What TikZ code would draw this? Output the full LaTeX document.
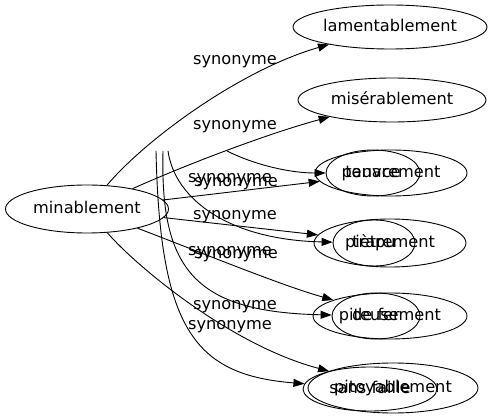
\documentclass[tikz,border=0pt]{standalone}
\usepackage{fontspec}
\setmainfont{DejaVu Sans}
\usetikzlibrary{arrows.meta, shapes.geometric}

\begin{document}
\begin{tikzpicture}[
                        ->,
                        >={Triangle[length=11pt, width=8pt]},
                        x=1pt, y=-1pt,
                        line width=0.9pt,
                        font=\fontsize{16.2}{19}\selectfont
                    ]
                    \tikzset{
                        word/.style = {draw, ellipse, inner sep=0pt, text height=12.3pt, text depth=3.8pt},
                        rel/.style = {anchor=base, inner sep=0pt}
                    }
                    \useasboundingbox (0,0) rectangle (493,419);

                    % Source word
                    \node[word, minimum width=163pt, minimum height=48pt] (mina) at (87,209) {minablement};

                    % Synonyms (right column)
                    \node[word, minimum width=194pt, minimum height=44pt] (lam) at (390,27) {lamentablement};
                    \node[word, minimum width=188pt, minimum height=44pt] (mis) at (392,100) {misérablement};
                    \node[word, minimum width=152pt, minimum height=46pt] (pauv) at (391,173) {pauvrement};
                    \node[word, minimum width=94pt, minimum height=46pt] (ten) at (373,173) {tenace};
                    \node[word, minimum width=152pt, minimum height=48pt] (piet) at (390,243) {piètrement};
                    \node[word, minimum width=82pt, minimum height=46pt] (trap) at (374,243) {trapu};
                    \node[word, minimum width=154pt, minimum height=46pt] (pite) at (390,316) {piteusement};
                    \node[word, minimum width=88pt, minimum height=46pt] (fer) at (376,316) {de fer};
                    \node[word, minimum width=170pt, minimum height=50pt] (pitoy) at (393,388) {pitoyablement};
                    \node[word, minimum width=134pt, minimum height=44pt] (sans) at (370,389) {sans faille};

                    % Loose edge tails
                    \coordinate (s1) at (227,151);
                    \coordinate (s2) at (168,151);
                    \coordinate (s3) at (163,151);
                    \coordinate (s4) at (156,151);

                    % Edges from minablement
                    \draw (mina) .. controls (145,140) and (240,70) .. (lam);
                    \draw (mina) .. controls (190,163) and (270,133) .. (mis);
                    \draw (mina) -- (pauv);
                    \draw (mina) -- (piet);
                    \draw (mina) .. controls (200,252) and (280,285) .. (pite);
                    \draw (mina) .. controls (135,265) and (230,345) .. (pitoy);

                    % Edges from the loose tails
                    \draw (s1) .. controls (255,165) and (290,173) .. (ten);
                    \draw (s2) .. controls (175,200) and (230,240) .. (trap);
                    \draw (s3) .. controls (160,270) and (195,312) .. (fer);
                    \draw (s4) .. controls (160,330) and (195,375) .. (sans);

                    % Edge labels
                    \node[rel] (l1) at (235,65) {synonyme};
                    \node[rel] (l2) at (235,130) {synonyme};
                    \node[rel] (l3) at (230,183) {synonyme};
                    \node[rel] (l4) at (236,187) {synonyme};
                    \node[rel] (l5) at (235,220) {synonyme};
                    \node[rel] (l6) at (230,256) {synonyme};
                    \node[rel] (l7) at (236,259) {synonyme};
                    \node[rel] (l8) at (235,310) {synonyme};
                    \node[rel] (l9) at (230,330) {synonyme};

                \end{tikzpicture}
\end{document}
